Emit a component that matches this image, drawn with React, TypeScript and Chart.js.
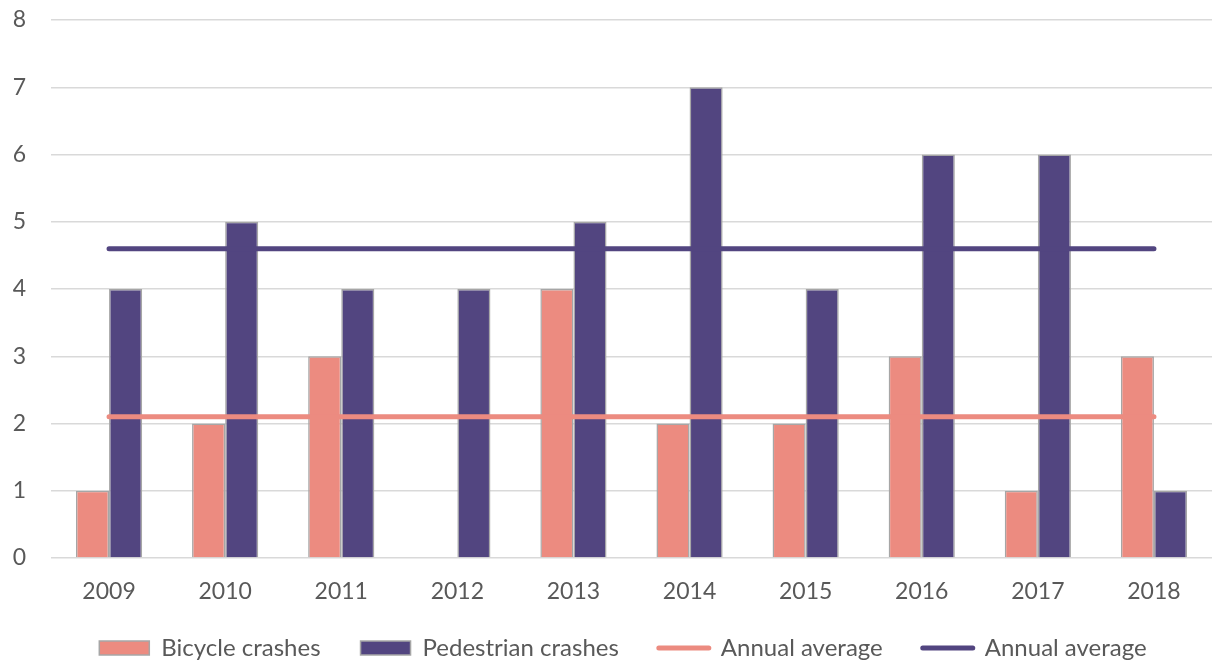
import React, { useEffect, useRef } from "react";
import { Chart, registerables } from "chart.js";

Chart.register(...registerables);

const years = ["2009", "2010", "2011", "2012", "2013", "2014", "2015", "2016", "2017", "2018"];
const bicycleCrashes = [1, 2, 3, 0, 4, 2, 2, 3, 1, 3];
const pedestrianCrashes = [4, 5, 4, 4, 5, 7, 4, 6, 6, 1];
const bicycleAverage = [2.1, 2.1, 2.1, 2.1, 2.1, 2.1, 2.1, 2.1, 2.1, 2.1];
const pedestrianAverage = [4.6, 4.6, 4.6, 4.6, 4.6, 4.6, 4.6, 4.6, 4.6, 4.6];
const yTicks = [0, 1, 2, 3, 4, 5, 6, 7, 8];

const SALMON = "#ec8b80";
const PURPLE = "#524580";
const TEXT = "#595959";
const FONT = "Lato, 'Open Sans', sans-serif";

const legendShift = {
  id: "legendShift",
  afterLayout(chart: any) {
    if (chart.legend) {
      chart.legend.left += 34;
      chart.legend.top -= 13;
    }
  },
};

export default function App() {
  const ref = useRef<HTMLCanvasElement | null>(null);

  useEffect(() => {
    if (!ref.current) return;
    const chart = new Chart(ref.current, {
      type: "bar",
      data: {
        labels: years,
        datasets: [
          {
            type: "bar",
            label: "Bicycle crashes",
            data: bicycleCrashes,
            backgroundColor: SALMON,
            borderColor: "#a6a6a6",
            borderWidth: 1.5,
            categoryPercentage: 0.57,
            barPercentage: 1.0,
            order: 2,
          },
          {
            type: "bar",
            label: "Pedestrian crashes",
            data: pedestrianCrashes,
            backgroundColor: PURPLE,
            borderColor: "#a6a6a6",
            borderWidth: 1.5,
            categoryPercentage: 0.57,
            barPercentage: 1.0,
            order: 2,
          },
          {
            type: "line",
            label: "Annual average",
            data: bicycleAverage,
            borderColor: SALMON,
            backgroundColor: SALMON,
            borderWidth: 5,
            borderCapStyle: "round",
            pointRadius: 0,
            order: 1,
          },
          {
            type: "line",
            label: "Annual average",
            data: pedestrianAverage,
            borderColor: PURPLE,
            backgroundColor: PURPLE,
            borderWidth: 5,
            borderCapStyle: "round",
            pointRadius: 0,
            order: 1,
          },
        ] as any,
      },
      options: {
        animation: false,
        responsive: true,
        maintainAspectRatio: false,
        layout: { padding: { left: 0, right: 0, top: 20, bottom: -16 } },
        scales: {
          x: {
            offset: true,
            grid: { display: false, drawTicks: false },
            border: { display: false },
            ticks: { color: TEXT, font: { family: FONT, size: 23 }, padding: 20 },
            afterFit: (axis: any) => {
              axis.height = 51;
              axis.paddingLeft = 0;
              axis.paddingRight = 0;
            },
          },
          y: {
            min: 0,
            max: 8,
            afterBuildTicks: (axis: any) => {
              axis.ticks = yTicks.map((v) => ({ value: v }));
            },
            afterFit: (axis: any) => {
              axis.width = 51;
              axis.paddingTop = 0;
              axis.paddingBottom = 0;
            },
            grid: { color: "#d9d9d9", lineWidth: 1.5, drawTicks: false },
            border: { display: false },
            ticks: { color: TEXT, font: { family: FONT, size: 23 }, padding: 25 },
          },
        },
        plugins: {
          tooltip: { enabled: false },
          legend: {
            position: "bottom",
            labels: {
              color: TEXT,
              font: { family: FONT, size: 24 },
              usePointStyle: true,
              pointStyleWidth: 50,
              boxWidth: 50,
              boxHeight: 14,
              padding: 40,
              generateLabels: (c: any) =>
                c.data.datasets.map((ds: any, i: number) => {
                  const isLine = ds.type === "line";
                  return {
                    text: ds.label,
                    fillStyle: ds.backgroundColor,
                    strokeStyle: isLine ? ds.borderColor : "#a6a6a6",
                    lineWidth: isLine ? 5 : 1.5,
                    lineCap: isLine ? "round" : "butt",
                    pointStyle: isLine ? "line" : "rect",
                    fontColor: TEXT,
                    hidden: false,
                    datasetIndex: i,
                  };
                }),
            },
          },
        },
      },
      plugins: [legendShift],
    });
    return () => chart.destroy();
  }, []);

  return (
    <div style={{ position: "fixed", left: 0, top: 0, width: 1212, height: 667, background: "#fff" }}>
      <canvas ref={ref} />
    </div>
  );
}
